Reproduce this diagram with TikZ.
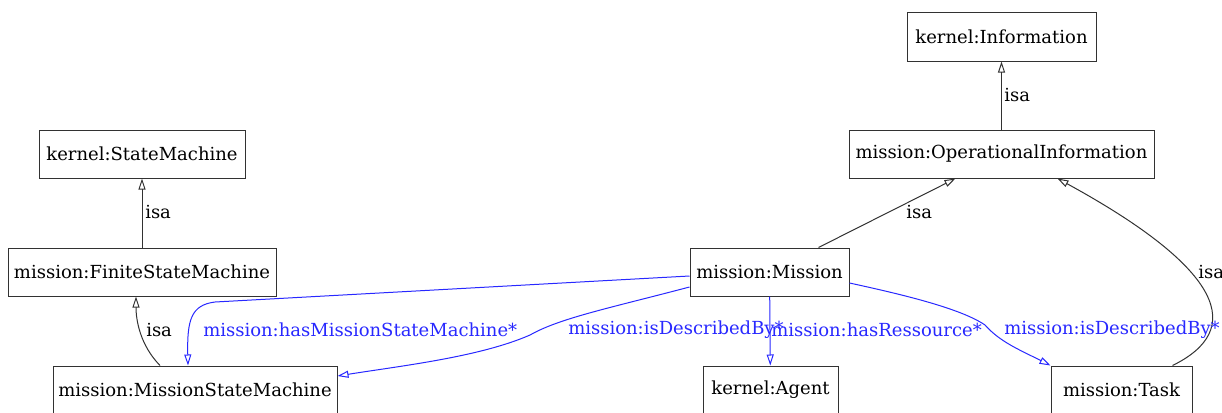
\documentclass[tikz,border=0pt]{standalone}
\usepackage{fontspec}
\setmainfont{DejaVu Serif}
\usetikzlibrary{arrows.meta}

\definecolor{linkblue}{RGB}{40,40,255}
\definecolor{isagray}{RGB}{50,50,50}

\tikzset{every picture/.style={line width=1pt}}
\tikzset{
  classbox/.style={draw=isagray, minimum height=48, inner sep=0pt, font=\fontsize{18}{20}\selectfont},
  isa/.style={draw=isagray, -{Triangle[open, length=11pt, width=7pt]}},
  rel/.style={draw=linkblue, -{Triangle[open, length=11pt, width=7pt]}},
  isalabel/.style={inner sep=0.75pt, font=\fontsize{18}{20}\selectfont},
  rellabel/.style={anchor=west, inner sep=0.75pt, text=linkblue, font=\fontsize{18}{20}\selectfont}
}

\begin{document}
\begin{tikzpicture}[x=1pt,y=1pt,yscale=-1,xscale=1]
\useasboundingbox (0,0) rectangle (1222,412);

% Class nodes
\node [classbox, minimum width=189] (info) at (1001.5,37) {kernel:Information};
\node [classbox, minimum width=305] (opinfo) at (1001.5,154) {mission:OperationalInformation};
\node [classbox, minimum width=206] (sm) at (142,154) {kernel:StateMachine};
\node [classbox, minimum width=268] (fsm) at (142,272) {mission:FiniteStateMachine};
\node [classbox, minimum width=159] (mission) at (769.5,272) {mission:Mission};
\node [classbox, minimum width=284] (msm) at (195,390) {mission:MissionStateMachine};
\node [classbox, minimum width=135] (agent) at (770.5,390) {kernel:Agent};
\node [classbox, minimum width=141] (task) at (1121.5,390) {mission:Task};

% isa edges
\draw [isa] (opinfo) -- (info);
\draw [isa] (fsm) -- (sm);
\draw [isa] ([xshift=49pt]mission.north) -- ([xshift=-46pt]opinfo.south);
\draw [isa] ([xshift=-35pt]msm.north) .. controls (140,345) and (136,320) .. ([xshift=-6pt]fsm.south);
\draw [isa] ([xshift=-20pt]task.north east) .. controls (1245,330) and (1225,270) .. ([xshift=56pt]opinfo.south);

% relation edges
\draw [rel] ([yshift=4pt]mission.west) -- (215,302) .. controls (191,305) and (187,320) .. ([xshift=-7pt]msm.north);
\draw [rel] ([yshift=15pt]mission.west) .. controls (610,308) and (560,318) .. (530,335) .. controls (480,357) and (400,366) .. ([yshift=-14pt]msm.east);
\draw [rel] (mission) -- (agent);
\draw [rel] ([yshift=11pt]mission.east) .. controls (900,294) and (960,308) .. (985,325) .. controls (1000,342) and (1020,350) .. (task.north west);

% isa labels
\node [isalabel, anchor=west] (l1) at (1003,95) {isa};
\node [isalabel, anchor=west] (l2) at (144,212) {isa};
\node [isalabel, anchor=west] (l3) at (905,212) {isa};
\node [isalabel, anchor=west] (l4) at (145,330) {isa};
\node [isalabel, anchor=west] (l5) at (1197,272) {isa};

% relation labels
\node [rellabel] (r1) at (202,330) {mission:hasMissionStateMachine*};
\node [rellabel] (r2) at (567,330) {mission:isDescribedBy*};
\node [rellabel] (r3) at (770,330) {mission:hasRessource*};
\node [rellabel] (r4) at (1003,330) {mission:isDescribedBy*};

\end{tikzpicture}
\end{document}
